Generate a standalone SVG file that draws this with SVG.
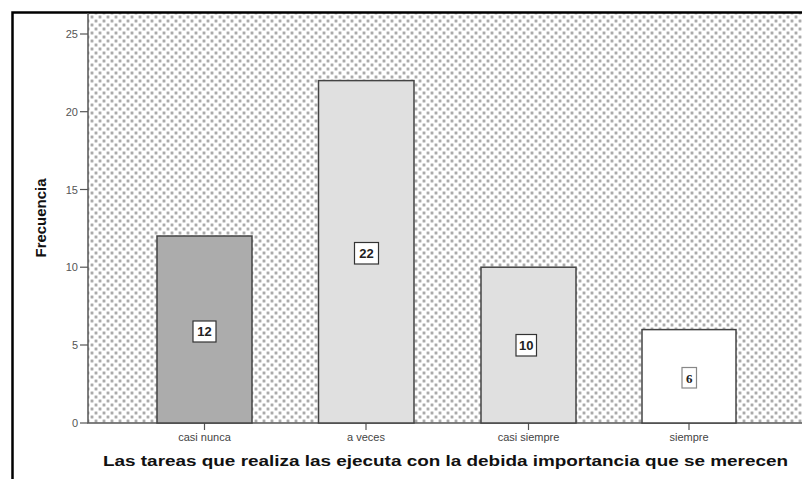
<svg xmlns="http://www.w3.org/2000/svg" width="802" height="479" viewBox="0 0 802 479">
<style>
.tick{font-family:"Liberation Sans",Arial,sans-serif;font-size:11px;fill:#555}
.cat{font-family:"Liberation Sans",Arial,sans-serif;font-size:11px;fill:#444;text-anchor:middle}
.bar{stroke:#444;stroke-width:1.5}
.vbox{fill:#fff;stroke:#333;stroke-width:1.2}
.val{font-family:"Liberation Sans",Arial,sans-serif;font-size:13px;font-weight:bold;fill:#222;text-anchor:middle}
.axis{stroke:#555;stroke-width:1.5;fill:none}
.d1{fill:#cfcfcf}
.d2{fill:#999}
</style>
<defs>
<pattern id="dots" width="8" height="8" patternUnits="userSpaceOnUse" x="88" y="13">
<rect width="8" height="8" fill="#fff"/>
<circle class="d1" cx="0" cy="0" r="1.9"/>
<circle class="d1" cx="8" cy="0" r="1.9"/>
<circle class="d1" cx="0" cy="8" r="1.9"/>
<circle class="d1" cx="8" cy="8" r="1.9"/>
<circle class="d1" cx="4" cy="4" r="1.9"/>
<circle class="d2" cx="0" cy="0" r="0.9"/>
<circle class="d2" cx="8" cy="0" r="0.9"/>
<circle class="d2" cx="0" cy="8" r="0.9"/>
<circle class="d2" cx="8" cy="8" r="0.9"/>
<circle class="d2" cx="4" cy="4" r="0.9"/>
</pattern>
</defs>
<rect width="802" height="479" fill="#fff"/>
<rect x="88" y="13" width="714" height="410" fill="url(#dots)"/>
<path d="M12.5 479 V12.5 H802" fill="none" stroke="#000" stroke-width="2.5"/>
<g id="axes">
<path class="axis" d="M88 13 V423 H802"/>
<g stroke="#555" stroke-width="1.2">
<line x1="80" y1="34" x2="88" y2="34"/>
<line x1="80" y1="111.7" x2="88" y2="111.7"/>
<line x1="80" y1="189.5" x2="88" y2="189.5"/>
<line x1="80" y1="267.2" x2="88" y2="267.2"/>
<line x1="80" y1="345" x2="88" y2="345"/>
<line x1="80" y1="423" x2="88" y2="423"/>
<line x1="204.5" y1="423" x2="204.5" y2="430"/>
<line x1="366" y1="423" x2="366" y2="430"/>
<line x1="528.5" y1="423" x2="528.5" y2="430"/>
<line x1="689" y1="423" x2="689" y2="430"/>
</g>
<text class="tick" x="78" y="38" text-anchor="end">25</text>
<text class="tick" x="78" y="115.7" text-anchor="end">20</text>
<text class="tick" x="78" y="193.5" text-anchor="end">15</text>
<text class="tick" x="78" y="271.2" text-anchor="end">10</text>
<text class="tick" x="78" y="349" text-anchor="end">5</text>
<text class="tick" x="78" y="427" text-anchor="end">0</text>
<text font-family="'Liberation Sans',Arial,sans-serif" font-size="14" font-weight="bold" fill="#111" text-anchor="middle" transform="translate(46 218) rotate(-90)" textLength="79" lengthAdjust="spacingAndGlyphs">Frecuencia</text>
</g>
<g id="bar-casi-nunca">
<rect class="bar" x="157" y="236" width="95" height="187" fill="#acacac"/>
<rect class="vbox" x="193" y="321" width="23" height="21"/>
<text class="val" x="204.5" y="336">12</text>
<text class="cat" x="204.5" y="441">casi nunca</text>
</g>
<g id="bar-a-veces">
<rect class="bar" x="318.5" y="80.6" width="95.5" height="342.4" fill="#e0e0e0"/>
<rect class="vbox" x="354.5" y="242.5" width="24" height="21.5"/>
<text class="val" x="366.5" y="258">22</text>
<text class="cat" x="366" y="441">a veces</text>
</g>
<g id="bar-casi-siempre">
<rect class="bar" x="481" y="267.2" width="95" height="155.8" fill="#e0e0e0"/>
<rect class="vbox" x="516" y="334.5" width="20.5" height="21.5"/>
<text class="val" x="526.3" y="350">10</text>
<text class="cat" x="528.5" y="441">casi siempre</text>
</g>
<g id="bar-siempre">
<rect class="bar" x="642" y="329.6" width="94" height="93.4" fill="#fff"/>
<rect x="682" y="367.5" width="14.5" height="20.5" fill="#fff" stroke="#888" stroke-width="1.2"/>
<text x="689.3" y="382.5" font-family="'Liberation Serif','Times New Roman',serif" font-size="13" font-weight="bold" fill="#222" text-anchor="middle">6</text>
<text class="cat" x="689" y="441">siempre</text>
</g>
<text x="103" y="466" font-family="'Liberation Sans',Arial,sans-serif" font-size="15.5" font-weight="bold" fill="#111" textLength="685" lengthAdjust="spacingAndGlyphs">Las tareas que realiza las ejecuta con la debida importancia que se merecen</text>
</svg>
